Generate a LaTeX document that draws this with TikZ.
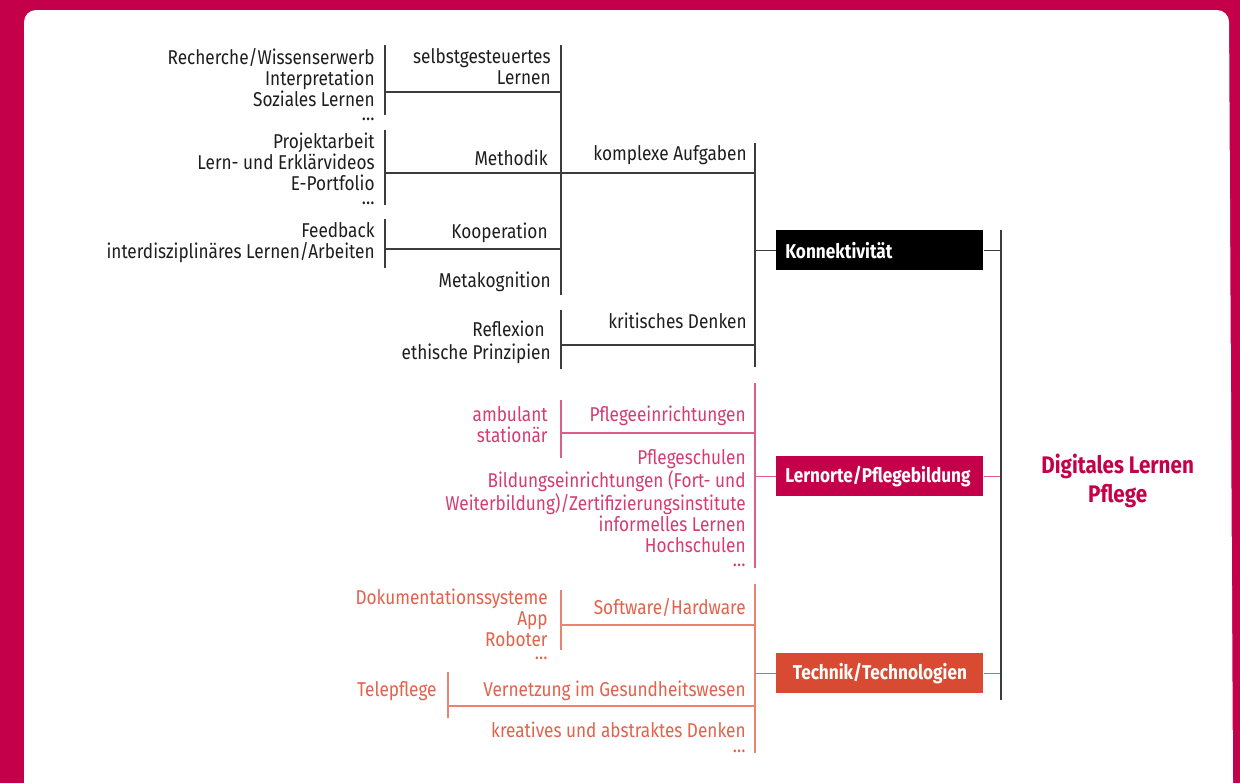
\documentclass[tikz,border=0pt]{standalone}
\usepackage{fontspec}
\setmainfont{Fira Sans}[FakeStretch=0.86]
\usetikzlibrary{positioning}

\definecolor{frame}{RGB}{196,0,75}
\definecolor{ink}{RGB}{30,30,30}
\definecolor{inkline}{RGB}{60,60,60}
\definecolor{pinktxt}{RGB}{212,60,114}
\definecolor{pinkline}{RGB}{222,92,138}
\definecolor{orgtxt}{RGB}{226,98,74}
\definecolor{orgline}{RGB}{234,132,112}
\definecolor{techred}{RGB}{216,75,50}

\begin{document}
\begin{tikzpicture}[x=0.5pt,y=-0.5pt]
		\tikzstyle{every node}=[inner sep=0pt,font=\fontsize{10}{10.5}\selectfont]
		\tikzstyle{blk}=[draw=inkline,line width=0.75pt]
		\tikzstyle{pnk}=[draw=pinkline,line width=0.75pt]
		\tikzstyle{org}=[draw=orgline,line width=0.75pt]
		% multi-line labels are placed at the baseline of their last line
		\tikzstyle{lbl}=[anchor=base east,align=right,text=ink]
		\tikzstyle{plbl}=[lbl,text=pinktxt]
		\tikzstyle{olbl}=[lbl,text=orgtxt]
		\tikzstyle{catbox}=[rectangle,anchor=north west,minimum height=20pt,text width=94.5pt,inner xsep=4.5pt,text=white,font=\bfseries\fontsize{10}{11}\selectfont]
		\tikzstyle{ttl}=[anchor=west,align=center,text=frame,font=\bfseries\fontsize{12}{14.5}\selectfont]

		\useasboundingbox (0,0) rectangle (1240,783);
		\fill[frame] (0,0) rectangle (1240,783);
		\fill[white] (24,783) [rounded corners=6pt] -- (24,10) -- (1229,10) [sharp corners] -- (1233,783) -- cycle;

		% bars
		\coordinate (mainT) at (1001,230);
		\coordinate (mainB) at (1001,700);
		\coordinate (mainM) at (1001,481);
		\coordinate (kT) at (755,143);
		\coordinate (kB) at (755,367);
		\coordinate (kaT) at (561,45);
		\coordinate (kaB) at (561,295);
		\coordinate (kdT) at (561,310);
		\coordinate (kdB) at (561,369);
		\coordinate (kdJ) at (561,345);
		\coordinate (slT) at (385,45);
		\coordinate (slB) at (385,115);
		\coordinate (slJ) at (385,92);
		\coordinate (mtT) at (385,130);
		\coordinate (mtB) at (385,205);
		\coordinate (mtJ) at (385,173);
		\coordinate (koT) at (385,219);
		\coordinate (koB) at (385,268);
		\coordinate (koJ) at (385,249);

		\coordinate (pT) at (755,383);
		\coordinate (pB) at (755,568);
		\coordinate (peT) at (561,400);
		\coordinate (peB) at (561,458);
		\coordinate (peJ) at (561,433);

		\coordinate (oT) at (755,584);
		\coordinate (oB) at (755,753);
		\coordinate (swT) at (561,590);
		\coordinate (swB) at (561,650);
		\coordinate (swJ) at (561,625);
		\coordinate (vzT) at (448,672);
		\coordinate (vzB) at (448,718);
		\coordinate (vzJ) at (448,706);

		% categories
		\node[catbox,fill=black,align=left] (kon) at (776,230) {Konnektivität};
		\node[catbox,fill=frame,align=left] (lern) at (776,456) {Lernorte/Pflegebildung};
		\node[catbox,fill=techred,align=center] (tech) at (776,653) {Technik/Technologien};
		\node[ttl] (dlp) [right=20pt of mainM] {Digitales Lernen\\Pflege};

		% Konnektivitaet
		\node[lbl] (rech) at (375,120) {Recherche/Wissenserwerb\\Interpretation\\Soziales Lernen\\[-3.5pt]…};
		\node[lbl] (self) at (551,84) {selbstgesteuertes\\Lernen};
		\node[lbl] (proj) at (375,204) {Projektarbeit\\Lern- und Erklärvideos\\E-Portfolio\\[-3.5pt]…};
		\node[lbl] (meth) at (548,165) {Methodik};
		\node[lbl] (feed) at (375,258) {Feedback\\interdisziplinäres Lernen/Arbeiten};
		\node[lbl] (koop) at (548,238) {Kooperation};
		\node[lbl] (meta) at (551,287) {Metakognition};
		\node[lbl] (kompl) at (747,160) {komplexe Aufgaben};
		\node[lbl] (refl) at (551,359) {Reflexion\kern3pt\\[1pt]ethische Prinzipien};
		\node[lbl] (krit) at (747,328) {kritisches Denken};

		\draw[blk] (slT) -- (slB);
		\draw[blk] (mtT) -- (mtB);
		\draw[blk] (koT) -- (koB);
		\draw[blk] (kaT) -- (kaB);
		\draw[blk] (kdT) -- (kdB);
		\draw[blk] (kT) -- (kB);
		\draw[blk] (slJ) -- (slJ -| kaT);
		\draw[blk] (mtJ) -- (mtJ -| kT);
		\draw[blk] (koJ) -- (koJ -| kaT);
		\draw[blk] (kdJ) -- (kdJ -| kT);
		\draw[blk] (kon.west) -- (kon.west -| kT);
		\draw[blk] (kon.east) -- (kon.east -| mainT);

		% Lernorte
		\node[plbl] (amb) at (548,442) {ambulant\\stationär};
		\node[plbl] (pein) at (746,421) {Pflegeeinrichtungen};
		\node[plbl] (psch) at (746,566) {Pflegeschulen\\Bildungseinrichtungen (Fort- und\\Weiterbildung)/Zertifizierungsinstitute\\informelles Lernen\\Hochschulen\\[-3.75pt]…};

		\draw[pnk] (peT) -- (peB);
		\draw[pnk] (pT) -- (pB);
		\draw[pnk] (peJ) -- (peJ -| pT);
		\draw[pnk] (lern.west) -- (lern.west -| pT);
		\draw[pnk] (lern.east) -- (lern.east -| mainT);

		% Technik
		\node[olbl] (doku) at (548,659) {Dokumentationssysteme\\App\\Roboter\\[-4pt]…};
		\node[olbl] (soft) at (746,614) {Software/Hardware};
		\node[olbl] (tele) at (437,696) {Telepflege};
		\node[olbl] (vern) at (746,696) {Vernetzung im Gesundheitswesen};
		\node[olbl] (krea) at (746,752) {kreatives und abstraktes Denken\\[-3pt]…};

		\draw[org] (swT) -- (swB);
		\draw[org] (vzT) -- (vzB);
		\draw[org] (oT) -- (oB);
		\draw[org] (swJ) -- (swJ -| oT);
		\draw[org] (vzJ) -- (vzJ -| oT);
		\draw[pnk] (tech.west) -- (tech.west -| oT);
		\draw[pnk] (tech.east) -- (tech.east -| mainT);

		\draw[draw=inkline,line width=1pt] (mainT) -- (mainB);
	\end{tikzpicture}
\end{document}
